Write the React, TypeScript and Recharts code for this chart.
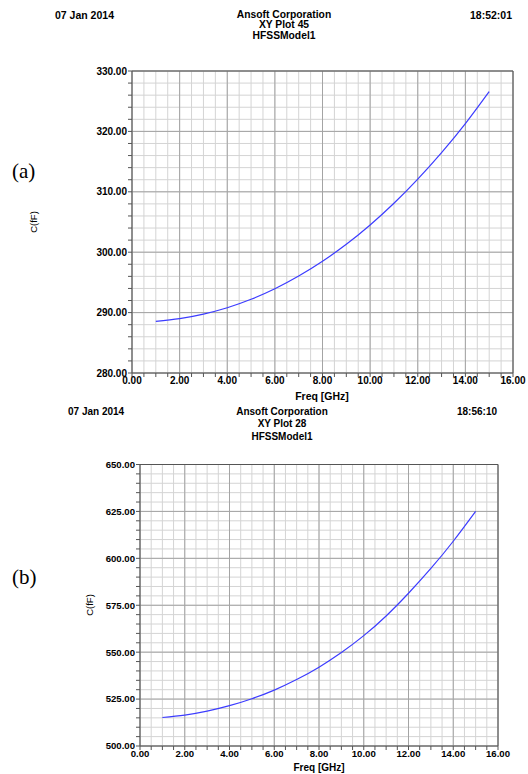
import React from 'react';
import { LineChart, Line, XAxis, YAxis, CartesianGrid, ReferenceLine } from 'recharts';

const freqGHz = [1, 2, 3, 4, 5, 6, 7, 8, 9, 10, 11, 12, 13, 14, 15];
const capA = [288.55, 289.0, 289.75, 290.8, 292.2, 293.95, 296.05, 298.5, 301.3, 304.5, 308.1, 312.1, 316.5, 321.3, 326.6];
const capB = [515.2, 516.5, 518.6, 521.5, 525.2, 529.8, 535.4, 542.0, 549.8, 558.8, 569.3, 581.4, 594.6, 609.1, 625.0];

const xMajor = [0, 2, 4, 6, 8, 10, 12, 14, 16];
const yMajorA = [280, 290, 300, 310, 320, 330];
const yMajorB = [500, 525, 550, 575, 600, 625, 650];

const headerA = ['Ansoft Corporation', 'XY Plot 45', 'HFSSModel1'];
const headerB = ['Ansoft Corporation', 'XY Plot 28', 'HFSSModel1'];

const range = (a: number, b: number, s: number) => {
  const out: number[] = [];
  for (let v = a; v <= b + 1e-9; v += s) out.push(Math.round(v * 100) / 100);
  return out;
};

const dataA = freqGHz.map((f, i) => ({ f, c: capA[i] }));
const dataB = freqGHz.map((f, i) => ({ f, c: capB[i] }));

const SANS = '"Liberation Sans", Arial, sans-serif';

type PlotProps = {
  data: { f: number; c: number }[];
  width: number;
  height: number;
  margin: { top: number; right: number; bottom: number; left: number };
  yWidth: number;
  xHeight: number;
  yDomain: [number, number];
  yMinorStep: number;
  yMajor: number[];
  fontSize: number;
};

function Plot(p: PlotProps) {
  const xTicks = range(0, 16, 0.5);
  const yTicks = range(p.yDomain[0], p.yDomain[1], p.yMinorStep);
  const tickStyle = { fontSize: p.fontSize, fontWeight: 'bold', fill: '#000', fontFamily: SANS };
  return (
    <LineChart width={p.width} height={p.height} data={p.data} margin={p.margin}>
      <CartesianGrid stroke="#d4d4d4" strokeWidth={1} />
      {xMajor.map((v) => (
        <ReferenceLine key={'vx' + v} x={v} stroke="#a4a4a4" strokeWidth={1} />
      ))}
      {p.yMajor.map((v) => (
        <ReferenceLine key={'hy' + v} y={v} stroke="#a4a4a4" strokeWidth={1} />
      ))}
      <ReferenceLine x={16} stroke="#555" strokeWidth={1} />
      <ReferenceLine y={p.yDomain[1]} stroke="#555" strokeWidth={1} />
      <XAxis
        dataKey="f"
        type="number"
        domain={[0, 16]}
        ticks={xTicks}
        interval={0}
        height={p.xHeight}
        tickSize={4}
        tickMargin={0}
        stroke="#555"
        tickLine={{ stroke: '#555' }}
        tick={tickStyle}
        tickFormatter={(v: number) => (v % 2 === 0 ? v.toFixed(2) : '')}
        allowDataOverflow
      />
      <YAxis
        type="number"
        domain={p.yDomain}
        ticks={yTicks}
        interval={0}
        width={p.yWidth}
        tickSize={4}
        tickMargin={1}
        stroke="#555"
        tickLine={{ stroke: '#555' }}
        tick={tickStyle}
        tickFormatter={(v: number) => (p.yMajor.includes(v) ? v.toFixed(2) : '')}
        allowDataOverflow
      />
      <Line
        type="natural"
        dataKey="c"
        stroke="#3c3cff"
        strokeWidth={1.2}
        dot={false}
        isAnimationActive={false}
      />
    </LineChart>
  );
}

const abs = (x: number, y: number, extra: React.CSSProperties = {}): React.CSSProperties => ({
  position: 'absolute',
  left: x,
  top: y,
  whiteSpace: 'nowrap',
  ...extra,
});

export default function App() {
  const hdr = (size: number): React.CSSProperties => ({
    fontFamily: SANS,
    fontWeight: 'bold',
    fontSize: size,
    color: '#000',
    lineHeight: '10px',
  });
  return (
    <div style={{ position: 'absolute', left: 0, top: 0, width: 528, height: 774, background: '#fff', overflow: 'hidden' }}>
      {/* Chart (a) header */}
      <div style={abs(55, 10, hdr(10.5))}>07 Jan 2014</div>
      {headerA.map((t, i) => (
        <div key={'ha' + i} style={abs(184, 10 + i * 10.3, { ...hdr(10.3), width: 200, textAlign: 'center' })}>{t}</div>
      ))}
      <div style={abs(412, 10, { ...hdr(10.5), width: 100, textAlign: 'right' })}>18:52:01</div>
      <div style={abs(12, 159, { fontFamily: '"Liberation Serif", serif', fontSize: 21 })}>(a)</div>
      <div style={abs(33, 222, { fontFamily: SANS, fontSize: 9.5, transform: 'translate(-50%,-50%) rotate(-90deg)' })}>C(fF)</div>
      <div style={abs(322, 396, { ...hdr(10.5), transform: 'translate(-50%,-50%)' })}>Freq [GHz]</div>

      <div style={abs(0, 0)}>
        <Plot
          data={dataA}
          width={528}
          height={400}
          margin={{ top: 71, right: 15, bottom: 0, left: 0 }}
          yWidth={132}
          xHeight={27}
          yDomain={[280, 330]}
          yMinorStep={2}
          yMajor={yMajorA}
          fontSize={10}
        />
      </div>

      {/* Chart (b) header */}
      <div style={abs(68, 407, hdr(10))}>07 Jan 2014</div>
      {headerB.map((t, i) => (
        <div key={'hb' + i} style={abs(182, 407 + i * 12.3, { ...hdr(10), width: 200, textAlign: 'center' })}>{t}</div>
      ))}
      <div style={abs(397, 407, { ...hdr(10), width: 100, textAlign: 'right' })}>18:56:10</div>
      <div style={abs(12, 565, { fontFamily: '"Liberation Serif", serif', fontSize: 21 })}>(b)</div>
      <div style={abs(89, 605, { fontFamily: SANS, fontSize: 9.5, transform: 'translate(-50%,-50%) rotate(-90deg)' })}>C(fF)</div>
      <div style={abs(319, 768, { ...hdr(10), transform: 'translate(-50%,-50%)' })}>Freq [GHz]</div>

      <div style={abs(0, 400)}>
        <Plot
          data={dataB}
          width={528}
          height={374}
          margin={{ top: 64.5, right: 30, bottom: 0, left: 0 }}
          yWidth={140}
          xHeight={28}
          yDomain={[500, 650]}
          yMinorStep={5}
          yMajor={yMajorB}
          fontSize={9.6}
        />
      </div>
    </div>
  );
}
